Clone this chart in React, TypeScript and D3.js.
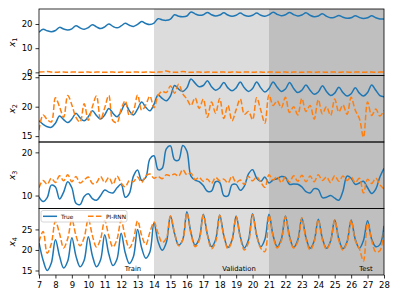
import React, { useRef, useEffect } from 'react';
import * as d3 from 'd3';

// sample times (days), one every 6 hours from day 7 to day 28
const times = d3.range(85).map((i) => 7 + i * 0.25);

const x1True = [
  16.6, 17.8, 17.2, 16.8, 17.3, 18.6, 17.9, 17.5, 18.0, 19.3, 18.4, 17.8,
  18.5, 19.7, 18.8, 18.1, 18.8, 20.0, 19.0, 18.4, 19.2, 20.3, 19.5, 19.0,
  19.8, 21.0, 20.2, 19.8, 20.4, 22.2, 21.7, 21.5, 22.0, 23.8, 23.2, 23.0,
  23.3, 25.0, 24.2, 23.6, 23.8, 24.8, 23.8, 23.3, 23.7, 24.6, 23.7, 23.2,
  23.6, 24.5, 23.6, 23.2, 23.6, 24.5, 23.6, 23.2, 23.8, 24.9, 24.0, 23.4,
  23.8, 24.8, 23.9, 23.3, 23.7, 24.6, 23.6, 23.0, 23.3, 24.2, 23.2, 22.6,
  22.8, 23.5, 22.8, 22.4, 22.6, 23.4, 22.7, 22.3, 22.6, 23.4, 22.6, 22.1,
  22.1,
];
const x1Pred = [
  0.1, 0.2, 0.4, 0.1, 0.0, 0.1, 0.1, 0.0, 0.1, 0.1, 0.0, 0.1,
  0.1, 0.0, 0.1, 0.1, 0.0, 0.1, 0.1, 0.0, 0.1, 0.1, 0.0, 0.1,
  0.1, 0.0, 0.1, 0.1, 0.0, 0.1, 0.2, 0.6, 0.1, 0.0, 0.1, 0.4,
  0.1, 0.0, 0.1, 0.1, 0.0, 0.1, 0.1, 0.0, 0.1, 0.1, 0.0, 0.1,
  0.1, 0.0, 0.1, 0.1, 0.0, 0.1, 0.1, 0.0, 0.1, 0.1, 0.0, 0.1,
  0.1, 0.0, 0.1, 0.1, 0.0, 0.1, 0.1, 0.0, 0.1, 0.1, 0.0, 0.1,
  0.1, 0.0, 0.1, 0.1, 0.0, 0.1, 0.1, 0.0, 0.1, 0.1, 0.0, 0.1,
  0.1,
];

const x2True = [
  17.6, 17.0, 16.6, 16.5, 17.2, 18.4, 17.8, 17.3, 17.9, 18.9, 18.1, 17.6,
  18.3, 19.3, 18.5, 17.9, 18.6, 19.7, 18.9, 18.3, 19.2, 20.5, 19.3, 18.6,
  19.6, 20.8, 19.9, 19.3, 20.4, 22.0, 21.4, 21.0, 21.8, 23.6, 23.0, 22.6,
  23.2, 24.7, 24.0, 23.4, 23.6, 24.4, 23.4, 22.8, 23.2, 24.1, 23.2, 22.7,
  23.2, 24.2, 23.2, 22.6, 23.1, 24.2, 23.2, 22.5, 23.1, 24.2, 23.3, 22.6,
  23.0, 24.1, 23.1, 22.4, 22.8, 23.7, 22.8, 22.1, 22.5, 23.55, 22.6, 21.9,
  22.3, 23.3, 22.4, 21.8, 22.2, 23.2, 22.3, 21.8, 22.4, 23.7, 22.8, 21.9,
  21.7,
];
const x2Pred = [
  16.0, 18.6, 17.8, 17.4, 21.5, 20.0, 18.2, 21.9, 20.3, 18.2, 17.4, 20.5,
  17.7, 20.0, 21.8, 17.8, 19.8, 21.9, 17.6, 17.3, 19.6, 21.0, 18.5, 19.3,
  22.0, 19.4, 20.3, 21.8, 19.8, 21.9, 22.6, 22.4, 23.5, 22.3, 23.8, 22.2,
  21.3, 20.2, 21.5, 19.7, 21.3, 18.2, 20.8, 18.9, 21.4, 18.0, 20.2, 17.6,
  19.5, 21.3, 18.7, 19.2, 17.8, 21.5, 19.4, 17.2, 22.0, 20.2, 21.0, 19.8,
  21.6, 19.0, 20.0, 18.6, 21.4, 19.2, 20.2, 17.9, 21.2, 18.8, 20.0, 18.5,
  21.3, 19.1, 20.3, 18.7, 21.6, 19.4, 18.0, 14.8, 20.8, 18.5, 19.6, 18.4,
  19.4,
];

const x3True = [
  9.7, 8.6, 9.5, 12.4, 12.0, 9.2, 10.8, 13.2, 11.8, 8.2, 7.9, 9.8,
  10.4, 9.3, 8.9, 10.0, 11.3, 10.8, 10.6, 11.8, 12.6, 9.6, 10.5, 14.5,
  15.9, 13.5, 14.2, 18.5, 19.2, 16.0, 16.3, 20.8, 21.5, 18.3, 18.2, 21.6,
  20.3, 14.5, 13.6, 13.2, 12.3, 11.0, 11.0, 13.2, 13.0, 10.0, 9.9, 12.5,
  12.6, 11.2, 12.2, 15.0, 16.0, 14.0, 13.3, 14.3, 12.9, 13.6, 13.9, 14.4,
  14.2, 12.6, 12.7, 12.6, 12.0, 10.9, 10.6, 11.6, 11.4, 9.5, 9.6, 10.0,
  9.4, 8.9, 11.0, 14.5, 14.0, 12.6, 12.9, 13.3, 11.8, 10.5, 11.5, 14.3,
  16.3,
];
const x3Pred = [
  11.8, 13.5, 12.6, 14.0, 13.0, 14.6, 13.4, 14.8, 13.2, 14.4, 12.9, 13.6,
  14.3, 12.8, 13.0, 14.4, 13.0, 14.2, 12.6, 14.5, 12.9, 12.0, 13.5, 13.2,
  14.3, 13.0, 14.6, 15.0, 14.0, 14.4, 13.9, 14.8, 14.6, 15.0, 14.5, 16.0,
  14.8, 15.2, 13.7, 14.2, 13.3, 13.8, 12.8, 14.2, 13.4, 13.8, 12.9, 14.5,
  13.0, 13.6, 12.6, 14.4, 13.4, 14.3, 13.1, 11.9, 14.8, 13.6, 14.4, 13.0,
  14.3, 13.1, 14.6, 13.3, 14.7, 13.2, 14.5, 13.2, 14.8, 13.5, 14.3, 13.0,
  14.6, 13.3, 14.5, 13.5, 14.3, 13.0, 14.0, 10.6, 13.8, 12.8, 14.0, 12.5,
  11.5,
];

const x4True = [
  21.8, 17.5, 15.0, 16.8, 22.5, 18.5, 15.6, 17.3, 23.0, 18.5, 15.9, 17.5,
  23.2, 18.6, 15.9, 17.6, 23.7, 19.0, 16.2, 17.8, 24.1, 19.3, 16.7, 18.4,
  25.0, 20.5, 18.0, 19.5, 26.6, 22.0, 19.9, 21.8, 28.2, 24.0, 21.2, 22.5,
  29.3, 24.2, 21.2, 22.7, 28.7, 23.8, 20.8, 22.5, 28.5, 23.5, 20.6, 22.4,
  28.3, 23.3, 20.5, 22.4, 28.8, 23.6, 20.8, 22.6, 28.7, 23.5, 20.8, 22.6,
  28.3, 23.3, 20.6, 22.4, 27.8, 23.0, 20.4, 22.2, 27.5, 22.8, 20.4, 22.2,
  27.3, 22.7, 20.3, 22.0, 27.3, 22.6, 20.4, 22.3, 27.1, 22.6, 20.8, 21.3,
  25.9,
];
const x4Pred = [
  22.0, 24.5, 19.2, 21.5, 27.0, 24.0, 20.5, 22.8, 27.4, 23.5, 21.0, 23.0,
  27.5, 23.5, 20.7, 22.7, 27.2, 23.4, 20.7, 22.6, 27.2, 23.2, 20.5, 22.5,
  27.1, 23.5, 21.3, 24.3, 26.8, 24.0, 21.8, 22.8, 28.3, 24.2, 21.0, 22.5,
  29.0, 24.0, 20.8, 22.3, 28.5, 23.6, 20.3, 22.0, 28.4, 23.4, 20.3, 22.2,
  28.1, 23.0, 20.0, 21.8, 28.6, 23.4, 20.4, 19.6, 28.5, 23.3, 20.5, 22.2,
  28.1, 23.0, 20.5, 22.0, 27.8, 22.7, 20.0, 21.9, 27.4, 22.5, 20.2, 22.0,
  27.3, 22.3, 20.0, 21.8, 27.2, 22.3, 20.3, 17.3, 26.5, 22.3, 19.5, 19.8,
  25.0,
];

const panels = [
  { sub: '1', truth: x1True, pred: x1Pred, domain: [-1.3, 26.2], ticks: [0, 10, 20] },
  { sub: '2', truth: x2True, pred: x2Pred, domain: [14.0, 25.3], ticks: [15, 20, 25] },
  { sub: '3', truth: x3True, pred: x3Pred, domain: [7.0, 22.4], ticks: [10, 20] },
  { sub: '4', truth: x4True, pred: x4Pred, domain: [13.9, 30.1], ticks: [15, 20, 25] },
];

const phaseBounds = [7, 14, 21, 28];
const phaseNames = ['Train', 'Validation', 'Test'];
const phaseLabelAt = [12.72, 19.17, 26.9];
const seriesNames = ['True', 'PI-RNN'];
const xTicks = d3.range(7, 29);

const BLUE = '#1f77b4';
const ORANGE = '#ff7f0e';
const FONT = 'DejaVu Sans, sans-serif';

export default function App() {
  const ref = useRef(null);

  useEffect(() => {
    const svg = d3.select(ref.current);
    svg.selectAll('*').remove();

    const left = 39;
    const right = 384;
    const top = 9;
    const bottom = 275;
    const ph = (bottom - top) / panels.length;

    const x = d3.scaleLinear().domain([7, 28]).range([left, right]);

    svg
      .append('clipPath')
      .attr('id', 'plotclip')
      .append('rect')
      .attr('x', left)
      .attr('y', top)
      .attr('width', right - left)
      .attr('height', bottom - top);

    // phase shading across all panels
    const shade = ['#ffffff', '#dcdcdc', '#bfbfbf'];
    svg
      .append('g')
      .selectAll('rect')
      .data(phaseNames)
      .enter()
      .append('rect')
      .attr('x', (d, i) => x(phaseBounds[i]))
      .attr('width', (d, i) => x(phaseBounds[i + 1]) - x(phaseBounds[i]))
      .attr('y', top)
      .attr('height', bottom - top)
      .attr('fill', (d, i) => shade[i]);

    panels.forEach((p, k) => {
      const y0 = top + k * ph;
      const y = d3.scaleLinear().domain(p.domain).range([y0 + ph, y0]);
      const g = svg.append('g');

      const line = (vals) =>
        d3
          .line()
          .x((d, i) => x(times[i]))
          .y((d) => y(d))
          .curve(d3.curveCatmullRom.alpha(0.5))(vals);

      g.append('path')
        .attr('d', line(p.truth))
        .attr('fill', 'none')
        .attr('stroke', BLUE)
        .attr('stroke-width', 1.5)
        .attr('clip-path', 'url(#plotclip)');
      g.append('path')
        .attr('d', line(p.pred))
        .attr('fill', 'none')
        .attr('stroke', ORANGE)
        .attr('stroke-width', 1.5)
        .attr('stroke-dasharray', '5.5,2.4')
        .attr('clip-path', 'url(#plotclip)');

      const ax = g
        .append('g')
        .attr('transform', `translate(${left},0)`)
        .call(d3.axisLeft(y).tickValues(p.ticks).tickSize(3.5).tickPadding(3).tickFormat(d3.format('d')));
      ax.select('.domain').remove();
      ax.selectAll('line').attr('stroke', '#000').attr('stroke-width', 0.8);
      ax.selectAll('text').attr('font-family', FONT).attr('font-size', 8.5).attr('fill', '#000');

      const lab = g
        .append('text')
        .attr('transform', `translate(15,${y0 + ph / 2}) rotate(-90)`)
        .attr('text-anchor', 'middle')
        .attr('font-family', FONT)
        .attr('font-size', 9);
      lab.append('tspan').attr('font-style', 'italic').text('x');
      lab.append('tspan').attr('font-size', 6.5).attr('dy', 2).text(p.sub);

      g.append('rect')
        .attr('x', left)
        .attr('y', y0)
        .attr('width', right - left)
        .attr('height', ph)
        .attr('fill', 'none')
        .attr('stroke', '#000')
        .attr('stroke-width', 0.8);
    });

    const xa = svg
      .append('g')
      .attr('transform', `translate(0,${bottom})`)
      .call(d3.axisBottom(x).tickValues(xTicks).tickSize(3.5).tickPadding(3).tickFormat(d3.format('d')));
    xa.select('.domain').remove();
    xa.selectAll('line').attr('stroke', '#000').attr('stroke-width', 0.8);
    xa.selectAll('text').attr('font-family', FONT).attr('font-size', 8.5).attr('fill', '#000');

    // phase labels in bottom panel
    svg
      .append('g')
      .selectAll('text')
      .data(phaseNames)
      .enter()
      .append('text')
      .attr('x', (d, i) => x(phaseLabelAt[i]))
      .attr('y', 270.5)
      .attr('text-anchor', 'middle')
      .attr('font-family', FONT)
      .attr('font-size', 6.8)
      .attr('fill', '#000')
      .text((d) => d);

    // legend
    const lg = svg.append('g').attr('transform', 'translate(41,210.5)');
    lg.append('rect')
      .attr('width', 86)
      .attr('height', 11.5)
      .attr('rx', 2)
      .attr('fill', '#fff')
      .attr('fill-opacity', 0.8)
      .attr('stroke', '#ccc')
      .attr('stroke-width', 0.8);
    seriesNames.forEach((name, i) => {
      const ox = i * 45;
      lg.append('line')
        .attr('x1', ox + 2)
        .attr('x2', ox + 16)
        .attr('y1', 5.8)
        .attr('y2', 5.8)
        .attr('stroke', i === 0 ? BLUE : ORANGE)
        .attr('stroke-width', 1.5)
        .attr('stroke-dasharray', i === 0 ? null : '5.5,2.4');
      lg.append('text')
        .attr('x', ox + 20)
        .attr('y', 8)
        .attr('font-family', FONT)
        .attr('font-size', 5.8)
        .attr('fill', '#000')
        .text(name);
    });
  }, []);

  return (
    <svg
      ref={ref}
      width={399}
      height={299}
      style={{ position: 'absolute', left: 0, top: 0, background: '#fff' }}
    />
  );
}
